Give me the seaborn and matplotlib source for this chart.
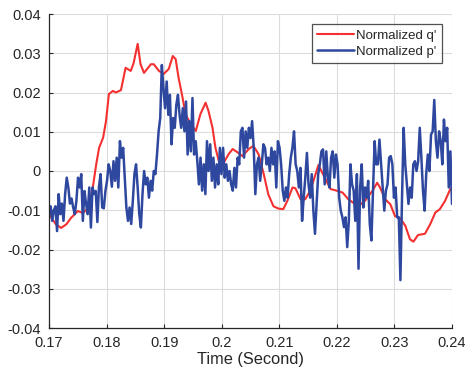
import numpy as np
import pandas as pd
import matplotlib
matplotlib.use("Agg")
import matplotlib.pyplot as plt
import seaborn as sns

# ---- data -------------------------------------------------------------
q_time = [0.1700, 0.1712, 0.1721, 0.1730, 0.1738, 0.1750, 0.1759, 0.1768, 0.1776,
          0.1782, 0.1787, 0.1794, 0.1799, 0.1804, 0.1811, 0.1816, 0.1825, 0.1833,
          0.1842, 0.1847, 0.1854, 0.1859, 0.1865, 0.1877, 0.1882, 0.1891, 0.1899,
          0.1908, 0.1915, 0.1920, 0.1925, 0.1932, 0.1937, 0.1946, 0.1955, 0.1963,
          0.1972, 0.1977, 0.1984, 0.1989, 0.1995, 0.2003, 0.2012, 0.2019, 0.2028,
          0.2036, 0.2047, 0.2055, 0.2064, 0.2073, 0.2081, 0.2090, 0.2099, 0.2107,
          0.2114, 0.2123, 0.2128, 0.2137, 0.2145, 0.2154, 0.2163, 0.2168, 0.2180,
          0.2189, 0.2197, 0.2210, 0.2220, 0.2237, 0.2249, 0.2262, 0.2270, 0.2275,
          0.2284, 0.2293, 0.2301, 0.2310, 0.2319, 0.2327, 0.2333, 0.2341, 0.2353,
          0.2362, 0.2371, 0.2379, 0.2388, 0.2397, 0.2400]
q_norm = [-11.0, -13.6, -14.5, -13.6, -12.0, -10.2, -10.7, -9.4, -4.3,
          1.7, 5.9, 8.5, 12.7, 19.6, 20.4, 20.0, 20.6, 26.3,
          25.5, 27.5, 32.4, 27.2, 25.0, 27.2, 27.2, 25.5, 24.7,
          26.0, 29.3, 28.5, 23.8, 18.7, 14.5, 12.0, 10.2, 14.5,
          17.4, 15.3, 11.0, 6.0, 2.5, 2.0, 4.3, 5.6, 4.7,
          3.8, 5.6, 6.4, 4.3, -0.8, -6.0, -9.0, -9.6, -9.7,
          -7.6, -4.2, -4.4, -7.2, -7.2, -5.0, -0.8, 1.5, -2.0,
          -4.6, -4.9, -5.5, -7.2, -9.0, -7.6, -5.0, -3.0, -4.2,
          -7.2, -8.5, -11.5, -12.0, -14.0, -17.4, -18.0, -16.3, -16.0,
          -13.6, -10.6, -9.7, -7.6, -4.6, -4.5]

p_norm = [
    # 0.170 - 0.1868
    -11.0, -9.0, -12.7, -10.0, -9.0, -15.3, -5.9, -11.0, -8.3, -12.7,
    -5.9, -1.7, -4.2, -8.3, -7.0, -9.3, -11.0, -7.6, -1.7, -4.2,
    -0.8, -12.7, -5.1, -8.3, -11.0, -4.2, -14.4, -4.2, -5.9, -5.1,
    -13.0, -4.0, -0.8, -9.3, -9.5, -5.1, -2.5, 1.7, 0.0, -4.0,
    2.5, -2.5, 3.4, -4.2, 7.6, 3.4, 5.9, -1.7, -9.3, -12.7,
    -9.3, -13.5, -7.6, -0.8, 1.7, -4.2, -11.0, -14.4, -5.9, 0.0,
    # 0.1871 - 0.2037
    -3.4, -1.7, -6.8, -2.5, -5.0, 0.0, -0.8, 4.2, 10.1, 13.5,
    27.0, 21.0, 16.0, 22.8, 14.3, 19.4, 6.8, 13.5, 11.0, 16.9,
    19.4, 14.3, 11.0, 16.0, 10.1, 17.7, 4.2, 12.7, 5.0, 18.6,
    4.2, 7.6, 2.5, -3.4, 3.4, -5.0, 1.7, -5.9, 7.6, 0.0,
    6.8, -2.5, 3.4, -4.2, 1.7, -3.4, 5.9, -0.8, 5.9, -1.7,
    1.7, -2.5, 0.0, -3.4, -5.0, 0.8, -4.2, 3.4, 1.7, 10.1,
    11.0, 3.4,
    # 0.2040 - 0.2213
    10.1, 5.9, 11.0, 8.4, 12.7, 5.9, -5.9, 1.7, 3.4, -2.5,
    1.7, 6.8, 5.9, 1.7, 3.4, 0.0, 5.9, 1.7, 5.0, -4.2,
    7.6, 6.0, 1.7, -5.0, -7.6, -4.2, -6.8, -0.8, 3.4, 5.9,
    10.1, 1.7, 0.0, -4.2, 0.8, -12.7, -6.8, -1.7, 4.6, -3.4,
    -6.8, -0.8, -10.1, -16.0, -8.4, -0.8, 1.7, 5.0, 5.5, -3.4,
    5.0, -1.7, -4.2, 3.4, 5.0, -1.7, 4.2, 1.7, -6.8, -10.1,
    -11.8, -14.3, -11.8, -19.4, -12.7,
    # 0.2220 - 0.2400
    1.7, -3.4, -5.0, -12.7, -0.8, -24.9, -4.2, 1.7, -9.3, -4.2,
    -6.8, -2.5, -13.5, -17.7, -5.0, 7.6, 1.7, 1.7, 8.0, 1.7,
    -4.2, -10.1, -5.0, -3.4, 3.4, 3.8, 1.7, -6.8, -4.2, -11.8,
    -11.8, -27.8, -6.8, 11.0, 1.7, -3.4, -8.4, -4.2, -6.8, 1.7,
    2.5, 0.0, 2.5, 11.0, 3.4, -5.0, -10.1, -0.8, 4.2, 0.0,
    9.3, 10.1, 18.1, 7.6, 3.4, 10.1, 7.6, 1.7, 13.1, 7.6,
    11.0, -4.2, 5.0, -8.4,
]

x_ticks = [0.17, 0.18, 0.19, 0.20, 0.21, 0.22, 0.23, 0.24]
x_tick_labels = ["0.17", "0.18", "0.19", "0.2", "0.21", "0.22", "0.23", "0.24"]
y_ticks = [-0.04, -0.03, -0.02, -0.01, 0.0, 0.01, 0.02, 0.03, 0.04]
y_tick_labels = ["-0.04", "-0.03", "-0.02", "-0.01", "0", "0.01", "0.02", "0.03", "0.04"]

# ---- frames -----------------------------------------------------------
q_df = pd.DataFrame({"t": q_time, "v": np.array(q_norm) / 1000.0})
p_time = np.linspace(0.17, 0.24, len(p_norm))
p_df = pd.DataFrame({"t": p_time, "v": np.array(p_norm) / 1000.0})

sns.set_theme(style="white")
plt.rcParams["font.family"] = ["Liberation Sans", "DejaVu Sans"]

fig = plt.figure(figsize=(4.65, 3.74), dpi=100)
ax = fig.add_axes([49 / 465, 1 - 328 / 374, (452 - 49) / 465, (328 - 14) / 374])

red = "#f53030"
blue = "#2f489f"
sns.lineplot(data=q_df, x="t", y="v", ax=ax, color=red, lw=1.5,
             sort=False, estimator=None, label="Normalized q'")
sns.lineplot(data=p_df, x="t", y="v", ax=ax, color=blue, lw=1.8,
             sort=False, estimator=None, label="Normalized p'")

ax.set_xlim(0.17, 0.24)
ax.set_ylim(-0.04, 0.04)
ax.set_xticks(x_ticks)
ax.set_xticklabels(x_tick_labels)
ax.set_yticks(y_ticks)
ax.set_yticklabels(y_tick_labels)
ax.grid(True, color="#dcdcdc", lw=0.8)
ax.set_axisbelow(True)
for s in ["top", "right"]:
    ax.spines[s].set_visible(False)
for s in ["left", "bottom"]:
    ax.spines[s].set_color("#262626")
    ax.spines[s].set_linewidth(0.9)
ax.tick_params(axis="both", direction="in", length=3, width=0.8,
               colors="#262626", labelsize=10.5, left=True, bottom=True)
ax.tick_params(axis="x", pad=6)
ax.tick_params(axis="y", pad=6)
ax.set_xlabel("Time (Second)", fontsize=11.8, color="#262626", labelpad=1)
ax.set_ylabel("")

leg = ax.legend(loc="upper right", bbox_to_anchor=(0.975, 0.968), fontsize=9.5,
                frameon=True, fancybox=False, edgecolor="#262626",
                borderpad=0.4, handlelength=2.8, handletextpad=0.15,
                labelspacing=0.3, borderaxespad=0.0)
leg.get_frame().set_linewidth(0.9)
leg.get_frame().set_facecolor("white")

fig.savefig("out.png", dpi=100, facecolor="white")
